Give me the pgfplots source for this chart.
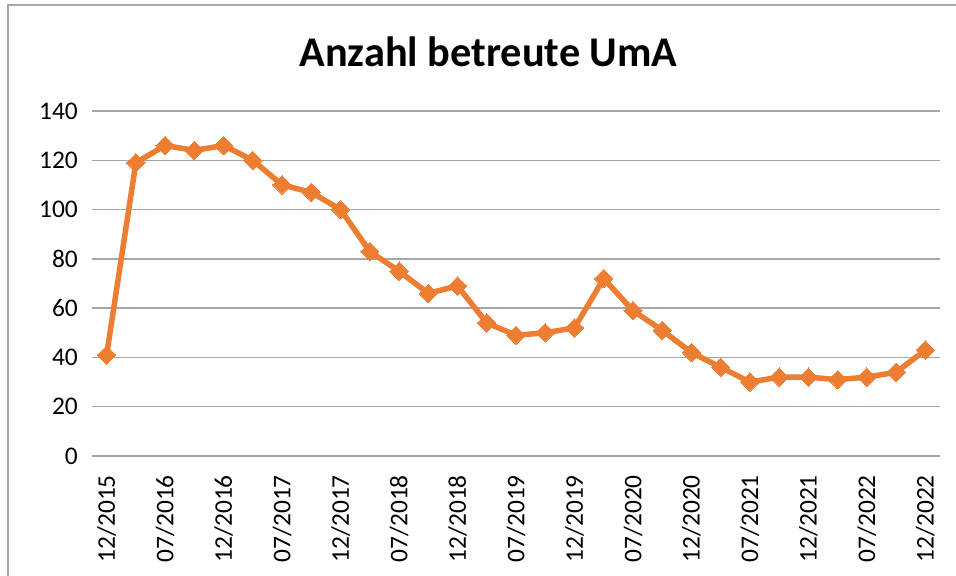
\documentclass[border=0pt]{standalone}
\usepackage{pgfplots}
\pgfplotsset{compat=1.18}
\usepackage{fontspec}
\setmainfont{Carlito}
\definecolor{uorange}{HTML}{ED7D31}
\definecolor{gridc}{HTML}{A6A6A6}
\begin{document}
\begin{tikzpicture}
\useasboundingbox (0bp,0bp) rectangle (956bp,576bp);
\fill[white] (0bp,0bp) rectangle (956bp,576bp);
\draw[gridc, line width=1.8bp] (8bp,0bp) -- (8bp,571bp) -- (956bp,571bp);
\node[font=\fontsize{42.5}{50}\selectfont\bfseries, anchor=base, inner sep=0pt] at (488.5bp,509bp) {Anzahl betreute UmA};
\begin{axis}[at={(92bp,120bp)}, anchor=south west, width=848bp, height=345bp, scale only axis,
 xmin=-0.5, xmax=28.5, ymin=0, ymax=140, ytick={0,20,...,140},
 xtick={0,2,...,28},
 xticklabels={12/2015,07/2016,12/2016,07/2017,12/2017,07/2018,12/2018,07/2019,12/2019,07/2020,12/2020,07/2021,12/2021,07/2022,12/2022},
 axis line style={draw=none}, ymajorgrids, major grid style={gridc, line width=1.3bp},
 major tick length=0pt, tick style={draw=none},
 /pgf/number format/assume math mode=true,
 ticklabel style={font=\fontsize{25.5}{30}\selectfont},
 yticklabel style={anchor=east, inner sep=0pt, xshift=-14bp},
 xticklabel style={yshift=-19bp, rotate=90, anchor=east, inner sep=0pt},
 clip=false]
\addplot[uorange, line width=5.5bp, line join=round, mark=square*, mark size=6.5bp, mark options={rotate=45, solid, line width=0pt}] coordinates {
(0,41) (1,119) (2,126) (3,124) (4,126) (5,120) (6,110) (7,107) (8,100) (9,83)
(10,75) (11,66) (12,69) (13,54) (14,49) (15,50) (16,52) (17,72) (18,59) (19,51)
(20,42) (21,36) (22,30) (23,32) (24,32) (25,31) (26,32) (27,34) (28,43)};
\end{axis}
\end{tikzpicture}
\end{document}
